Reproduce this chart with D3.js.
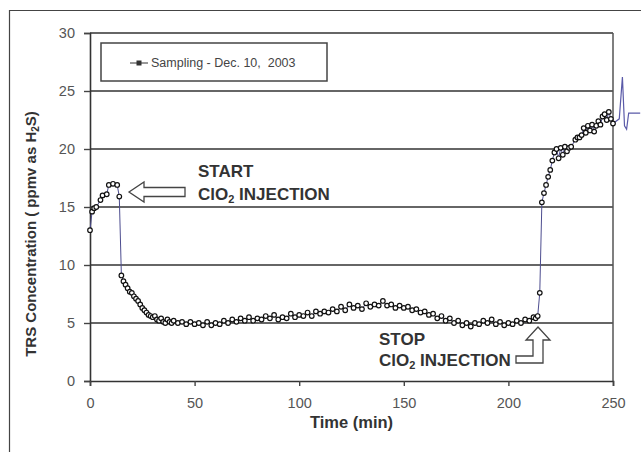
<!DOCTYPE html>
<html><head><meta charset="utf-8">
<script src="https://cdn.jsdelivr.net/npm/d3@7"></script>
<style>body{margin:0;background:#fff}svg{display:block}</style>
</head><body>
<script>
// ---- data ----
const times = [0,1,2,3,5,6,8,9,11,13,14,15,16,17,18,19,20,21,22,23,24,25,26,27,28,29,30,31,32,33,34,35,36,37,38,39,
40,42,44,46,48,50,52,54,56,58,60,62,64,66,68,70,72,74,76,78,80,82,84,86,88,90,92,94,96,98,100,102,104,106,108,110,112,114,116,118,120,122,124,126,128,130,132,134,136,138,140,142,144,146,148,150,152,154,156,158,160,162,164,166,168,170,172,174,176,178,180,182,184,186,188,190,192,194,196,198,200,202,204,206,208,210,212,213,214,
215,216,217,218,219,220,221,222,223,224,225,226,227,228,229,230,232,233,234,235,236,237,238,239,240,241,242,243,244,245,246,247,248,249,250];
const trs = [13.0,14.6,14.9,15.0,15.6,16.0,16.1,16.9,17.0,16.9,15.9,9.1,8.6,8.3,8.0,7.7,7.6,7.3,7.1,6.9,6.6,6.3,6.1,5.9,5.7,5.6,5.5,5.6,5.3,5.2,5.4,5.1,5.0,5.3,5.1,5.0,
5.2,5.0,5.1,4.9,5.1,4.9,5.0,4.8,5.1,4.8,5.0,4.9,5.2,5.0,5.3,5.1,5.4,5.2,5.5,5.2,5.4,5.3,5.6,5.4,5.7,5.3,5.5,5.4,5.8,5.5,5.7,5.6,5.9,5.6,6.0,5.8,6.0,5.9,6.2,6.0,6.4,6.1,6.6,6.3,6.5,6.2,6.7,6.4,6.6,6.5,6.9,6.5,6.6,6.3,6.5,6.3,6.4,6.1,6.2,5.9,6.0,5.7,5.8,5.4,5.6,5.2,5.4,5.0,5.2,4.8,5.0,4.7,5.0,4.9,5.2,5.0,5.3,4.9,5.1,4.8,5.0,4.9,5.2,5.0,5.3,5.2,5.5,5.4,5.6,
7.6,15.4,16.2,16.9,17.6,18.2,19.0,19.7,20.0,19.2,20.1,19.5,20.2,19.8,20.1,20.2,20.8,21.0,21.0,21.2,21.8,21.4,22.0,21.6,22.1,21.5,22.0,22.4,22.1,22.8,23.0,22.5,23.2,22.6,22.2];
// trailing trace beyond the plot edge (as in the scanned figure)
const traceTimes = [250,253,254.5,255.5,256.5,257.5,263];
const traceVals  = [22.2,22.6,26.2,22.0,21.7,23.1,23.1];
const xTicks = [0,50,100,150,200,250];
const yTicks = [0,5,10,15,20,25,30];
const legendLabel = "Sampling - Dec. 10,  2003";

// ---- layout ----
const W = 641, H = 452;
const svg = d3.select("body").append("svg").attr("width", W).attr("height", H);
svg.append("rect").attr("width", W).attr("height", H).attr("fill", "#fff");
// outer frame
svg.append("path").attr("d", "M9.5,452 L9.5,10.5 L641,10.5").attr("fill", "none").attr("stroke", "#444").attr("stroke-width", 1.2);

const x = d3.scaleLinear().domain([0, 250]).range([90, 613]);
const y = d3.scaleLinear().domain([0, 30]).range([381, 33]);
const font = "'Liberation Sans', Arial, sans-serif";

// gridlines
svg.append("g").selectAll("line").data(yTicks.filter(d => d > 0)).join("line")
  .attr("x1", x(0)).attr("x2", x(250)).attr("y1", d => y(d)).attr("y2", d => y(d))
  .attr("stroke", "#666").attr("stroke-width", 1.8);
// right border
svg.append("line").attr("x1", x(250)).attr("x2", x(250)).attr("y1", y(30)).attr("y2", y(0))
  .attr("stroke", "#555").attr("stroke-width", 1.5);

// axes
const yAxis = d3.axisLeft(y).tickValues(yTicks).tickSize(6).tickPadding(9);
const gy = svg.append("g").attr("transform", `translate(${x(0)},0)`).call(yAxis);
const xAxis = d3.axisBottom(x).tickValues(xTicks).tickSize(5).tickPadding(12);
const gx = svg.append("g").attr("transform", `translate(0,${y(0)})`).call(xAxis);
[gx, gy].forEach(g => {
  g.select(".domain").attr("stroke", "#333").attr("stroke-width", 1.6);
  g.selectAll(".tick line").attr("stroke", "#444").attr("stroke-width", 1.4);
  g.selectAll("text").attr("font-family", font).attr("fill", "#555").attr("font-size", 14.5);
});

// axis titles
svg.append("text").attr("x", x(125)).attr("y", 428).attr("text-anchor", "middle")
  .attr("font-family", font).attr("font-weight", "bold").attr("font-size", 16.5).attr("fill", "#333")
  .text("Time (min)");
const yt = svg.append("text").attr("transform", "translate(36,234) rotate(-90)").attr("text-anchor", "middle")
  .attr("font-family", font).attr("font-weight", "bold").attr("font-size", 15).attr("fill", "#333");
yt.append("tspan").text("TRS Concentration ( ppmv as H");
yt.append("tspan").attr("font-size", 10).attr("dy", 3).text("2");
yt.append("tspan").attr("dy", -3).text("S)");

// data line + markers
const pts = times.map((t, i) => [t, trs[i]]);
const line = d3.line().x(d => x(d[0])).y(d => y(d[1]));
svg.append("path").datum(pts).attr("d", line).attr("fill", "none")
  .attr("stroke", "#4d4d8f").attr("stroke-width", 1);
const trace = traceTimes.map((t, i) => [t, traceVals[i]]);
svg.append("path").datum(trace).attr("d", line).attr("fill", "none")
  .attr("stroke", "#5a5aa8").attr("stroke-width", 1.2);
svg.append("g").selectAll("circle").data(pts).join("circle")
  .attr("cx", d => x(d[0])).attr("cy", d => y(d[1])).attr("r", 2.3)
  .attr("fill", "#fff").attr("stroke", "#111").attr("stroke-width", 1.2);

// legend
svg.append("rect").attr("x", 101).attr("y", 43).attr("width", 226).attr("height", 38)
  .attr("fill", "#fff").attr("stroke", "#444").attr("stroke-width", 1.5);
svg.append("line").attr("x1", 130).attr("x2", 148).attr("y1", 63).attr("y2", 63).attr("stroke", "#333");
svg.append("rect").attr("x", 136.5).attr("y", 60.5).attr("width", 5).attr("height", 5).attr("fill", "#333");
svg.append("text").attr("x", 151).attr("y", 67).attr("font-family", font).attr("font-size", 12.5)
  .attr("fill", "#444").attr("xml:space", "preserve").text(legendLabel);

// annotations
function clo2(xp, yp) {
  const t = svg.append("text").attr("x", xp).attr("y", yp).attr("font-family", font)
    .attr("font-weight", "bold").attr("font-size", 17).attr("fill", "#333");
  t.append("tspan").text("ClO");
  t.append("tspan").attr("font-size", 11).attr("dy", 3).text("2");
  t.append("tspan").attr("dy", -3).text(" INJECTION");
}
svg.append("text").attr("x", 198).attr("y", 177).attr("font-family", font)
  .attr("font-weight", "bold").attr("font-size", 17).attr("fill", "#333").text("START");
clo2(198, 200);
svg.append("text").attr("x", 379).attr("y", 345).attr("font-family", font)
  .attr("font-weight", "bold").attr("font-size", 17).attr("fill", "#333").text("STOP");
clo2(379, 366);

// START arrow (hollow, pointing left)
svg.append("path").attr("d", "M129,192 L144,182 L144,187.5 L185,187.5 L185,196.5 L144,196.5 L144,202 Z")
  .attr("fill", "#fff").attr("stroke", "#444").attr("stroke-width", 1.3);
// STOP arrow (hollow, bent, pointing up)
svg.append("path").attr("d", "M538,327 L550,340 L543,340 L543,363 L516,363 L516,356 L533,356 L533,340 L526,340 Z")
  .attr("fill", "#fff").attr("stroke", "#444").attr("stroke-width", 1.3);
</script>
</body></html>
